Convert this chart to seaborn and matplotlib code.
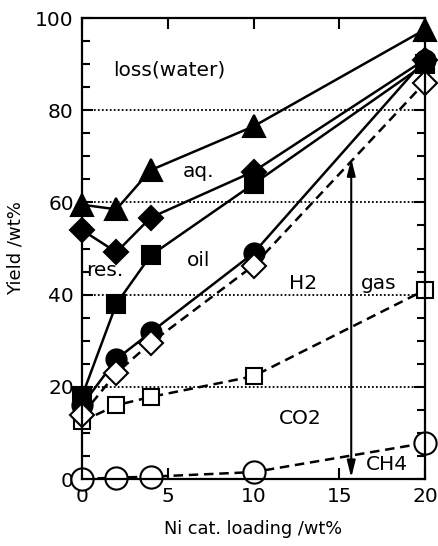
import seaborn as sns
import matplotlib.pyplot as plt
from matplotlib.ticker import MultipleLocator

# Ni catalyst loading, wt%
loading = [0, 2, 4, 10, 20]

# cumulative yields, wt%
aq_yield = [59.5, 58.5, 67, 76.5, 97.5]          # filled triangles
res_yield = [54, 49.2, 56.7, 66.7, 91]           # filled diamonds
oil_yield = [18, 38, 48.5, 64, 90]               # filled squares
gas_yield = [16, 26, 31.8, 49, 91]               # filled circles
h2_yield = [13.9, 23, 29.5, 46.3, 86]            # open diamonds
co2_yield = [12.5, 16, 17.8, 22.3, 41]           # open squares
ch4_yield = [0, 0.3, 0.5, 1.5, 7.8]              # open circles

sns.set_style("ticks")
plt.rcParams['font.family'] = ['DejaVu Sans']
plt.rcParams['text.color'] = 'black'
plt.rcParams['axes.labelcolor'] = 'black'
plt.rcParams['axes.edgecolor'] = 'black'
plt.rcParams['xtick.color'] = 'black'
plt.rcParams['ytick.color'] = 'black'

fig = plt.figure(figsize=(4.39, 5.46), dpi=100)
ax = fig.add_axes([0.187, 0.1227, 0.781, 0.8443])

lw = 1.8
dash = (3.8, 2.3)

# draw order matters where markers overlap
series = [
    (ch4_yield, 'o', 16, 'white', True),
    (co2_yield, 's', 12, 'white', True),
    (oil_yield, 's', 12.5, 'black', False),
    (res_yield, 'D', 12.5, 'black', False),
    (gas_yield, 'o', 14.5, 'black', False),
    (h2_yield, 'D', 12.5, 'white', True),
    (aq_yield, '^', 16, 'black', False),
]

for vals, mk, ms, fc, dashed in series:
    sns.lineplot(x=loading, y=vals, ax=ax, color='black', linewidth=lw,
                 marker=mk, markersize=ms, markerfacecolor=fc,
                 markeredgecolor='black', markeredgewidth=1.5,
                 errorbar=None, legend=False)
    line = ax.lines[-1]
    line.set_clip_on(False)
    if dashed:
        line.set_dashes(dash)

ax.set_xlim(0, 20)
ax.set_ylim(0, 100)
ax.xaxis.set_major_locator(MultipleLocator(5))
ax.yaxis.set_major_locator(MultipleLocator(20))
ax.yaxis.set_minor_locator(MultipleLocator(5))

for y in [20, 40, 60, 80]:
    ax.axhline(y, color='black', linewidth=1.3, linestyle=(0, (1, 1.2)), zorder=0)

ax.tick_params(which='both', direction='in', top=True, right=True,
               width=1.5, labelsize=14.5, pad=6)
ax.tick_params(which='major', length=8)
ax.tick_params(which='minor', length=6)
for s in ax.spines.values():
    s.set_linewidth(1.6)
    s.set_zorder(5)

ax.set_xlabel('Ni cat. loading /wt%', fontsize=12.8, labelpad=10)
ax.set_ylabel('Yield /wt%', fontsize=13, labelpad=8)

labels = [
    ('loss(water)', 5.1, 88.7),
    ('aq.', 6.8, 66.6),
    ('res.', 1.3, 45.3),
    ('oil', 6.8, 47.5),
    ('H2', 12.9, 42.5),
    ('gas', 17.3, 42.5),
    ('CO2', 12.7, 13.2),
    ('CH4', 17.8, 3.2),
]
for txt, x, y in labels:
    ax.text(x, y, txt, fontsize=14.5, ha='center', va='center', zorder=6)

ax.annotate('', xy=(15.7, 0.3), xytext=(15.7, 69.5),
            arrowprops=dict(arrowstyle='<|-|>,head_length=1.0,head_width=0.25',
                            color='black', lw=1.5, shrinkA=0, shrinkB=0))

fig.savefig('out.png', dpi=100)
